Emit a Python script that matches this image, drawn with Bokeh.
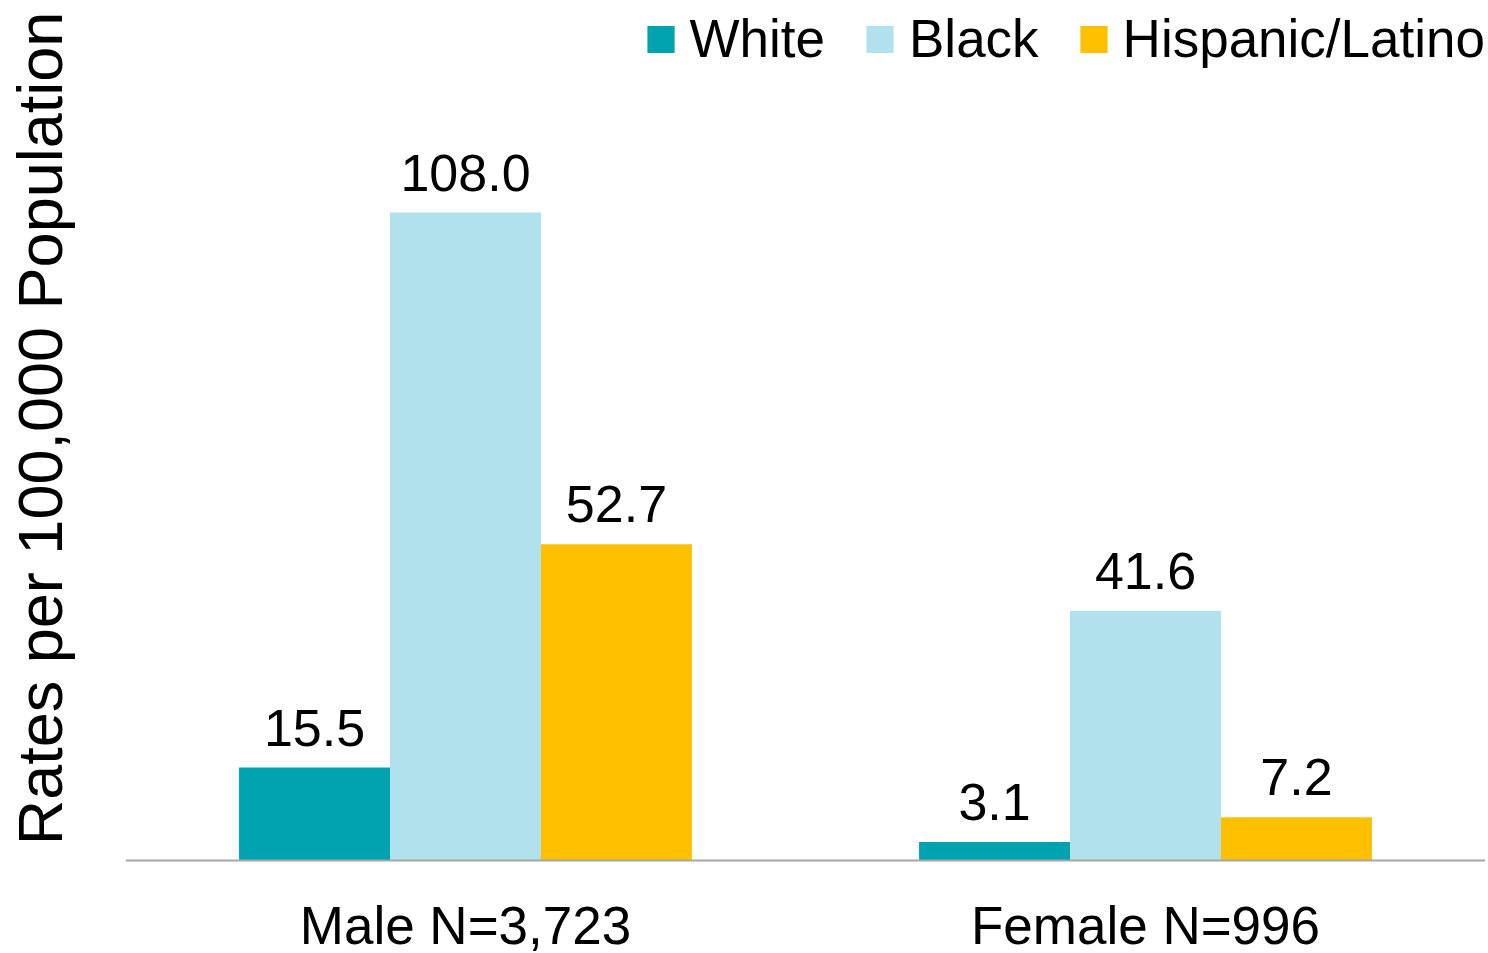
from bokeh.plotting import figure
from bokeh.models import (ColumnDataSource, Range1d, LabelSet, Legend, LegendItem,
                          Span, FixedTicker)
from bokeh.core.properties import value
from bokeh.transform import dodge
from bokeh.embed import file_html
from bokeh.resources import INLINE

categories = ["Male N=3,723", "Female N=996"]
series = ["White", "Black", "Hispanic/Latino"]
white = [15.5, 3.1]
black = [108.0, 41.6]
hispanic = [52.7, 7.2]
colors = ["#00A2AF", "#B1E1EC", "#FFC000"]
y_title = "Rates per 100,000 Population"

FONT = "Liberation Sans"

p = figure(x_range=categories, y_range=Range1d(-15.5, 142), width=1485, height=953,
           output_backend="svg", toolbar_location=None,
           min_border_left=125, min_border_right=0, min_border_top=8, min_border_bottom=0)
p.x_range.range_padding = 0
p.outline_line_color = None
p.grid.grid_line_color = None
p.background_fill_color = None
p.border_fill_color = "white"

src = ColumnDataSource(dict(cat=categories, zero=[0, 0], White=white, Black=black, Hisp=hispanic,
                            wl=[f"{v:.1f}" for v in white],
                            bl=[f"{v:.1f}" for v in black],
                            hl=[f"{v:.1f}" for v in hispanic]))

# baseline (category axis line)
p.add_layout(Span(location=0, dimension="width", line_color="#A6A6A6", line_width=2))

offsets = [-0.222, 0.0, 0.222]
fields = ["White", "Black", "Hisp"]
lbls = ["wl", "bl", "hl"]
renderers = []
for off, f, c, lb in zip(offsets, fields, colors, lbls):
    r = p.vbar(x=dodge("cat", off, range=p.x_range), top=f, bottom=0, width=0.222, source=src,
               fill_color=c, line_color=None)
    renderers.append(r)
    ls = LabelSet(x=dodge("cat", off, range=p.x_range), y=f, text=lb, source=src,
                  text_align="center", text_baseline="alphabetic", y_offset=22,
                  text_font=value(FONT), text_font_size=value("52px"), text_color="black")
    p.add_layout(ls)

# category labels under the baseline
cat_labels = LabelSet(x="cat", y="zero", text="cat", source=src,
                      text_align="center", text_baseline="alphabetic", y_offset=-83,
                      text_font=value(FONT), text_font_size=value("53px"), text_color="black")
p.add_layout(cat_labels)

legend = Legend(items=[LegendItem(label=s, renderers=[r]) for s, r in zip(series, renderers)],
                location="top_right", orientation="horizontal")
legend.label_text_font = FONT
legend.label_text_font_size = "53px"
legend.label_text_color = "black"
legend.glyph_width = 34
legend.glyph_height = 34
legend.label_standoff = 12
legend.spacing = 38
legend.padding = 0
legend.margin = 0
legend.border_line_color = None
legend.background_fill_alpha = 0
p.add_layout(legend)

p.xaxis.visible = False

p.yaxis.ticker = FixedTicker(ticks=[])
p.yaxis.axis_line_color = None
p.yaxis.major_tick_out = 0
p.yaxis.major_tick_in = 0
p.yaxis.minor_tick_out = 0
p.yaxis.minor_tick_in = 0
p.yaxis.major_label_standoff = 0
# leading no-break spaces shift the centred title up along the axis
p.yaxis.axis_label = "\u00a0" * 6 + y_title
p.yaxis.axis_label_text_font = FONT
p.yaxis.axis_label_text_font_size = "63px"
p.yaxis.axis_label_text_font_style = "normal"
p.yaxis.axis_label_text_color = "black"
p.yaxis.axis_label_standoff = 51

open("out.html", "w").write(file_html(p, INLINE))
